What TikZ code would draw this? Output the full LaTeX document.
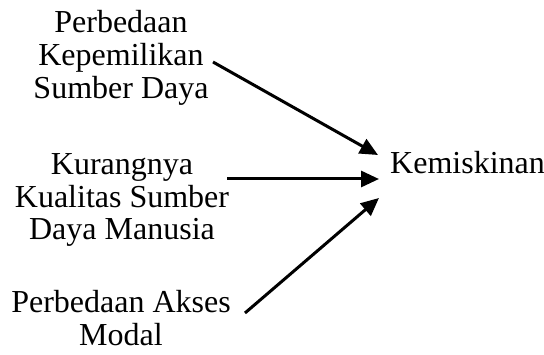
\documentclass[tikz,border=0pt]{standalone}
\usepackage{fontspec}
\setmainfont{Liberation Serif}
\usetikzlibrary{arrows.meta}
\begin{document}
\begin{tikzpicture}[x=1pt,y=1pt,
  lbl/.style={align=center,inner sep=0pt,anchor=base,font=\fontsize{32}{33}\selectfont},
  arr/.style={line width=3pt,-{Triangle[length=18pt,width=16pt]}}]
\useasboundingbox (0,0) rectangle (544,354);
\node[lbl] (a) at (121,255) {Perbedaan\\Kepemilikan\\Sumber Daya};
\node[lbl] (b) at (122,114) {Kurangnya\\Kualitas Sumber\\Daya Manusia};
\node[lbl] (c) at (121,9) {Perbedaan Akses\\Modal};
\node[lbl,anchor=base west] (k) at (390,180) {Kemiskinan};
\coordinate (a1) at (213,292);
\coordinate (a2) at (378,199);
\coordinate (b1) at (227,175);
\coordinate (b2) at (379,175);
\coordinate (c1) at (245,41);
\coordinate (c2) at (379,156);
\draw[arr] (a1) -- (a2);
\draw[arr] (b1) -- (b2);
\draw[arr] (c1) -- (c2);
\end{tikzpicture}
\end{document}
